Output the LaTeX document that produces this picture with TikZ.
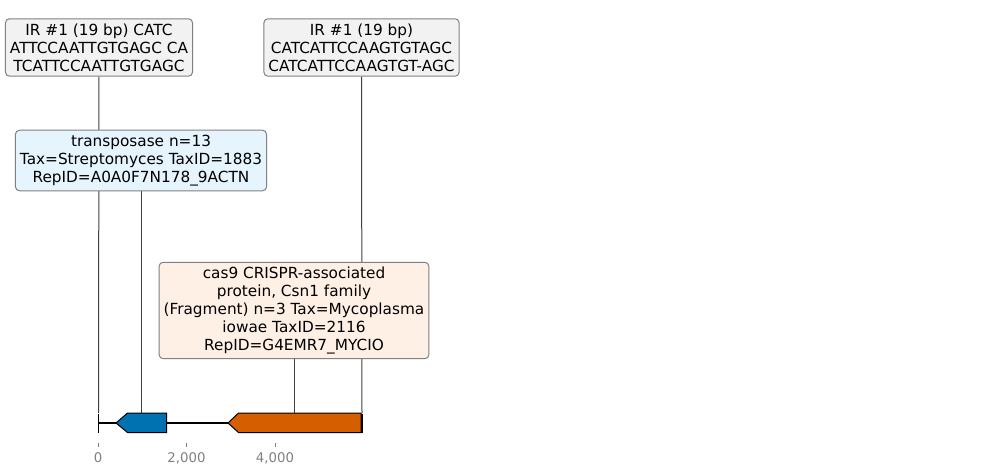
\documentclass[tikz,border=0pt]{standalone}
\usepackage{fontspec}
\setmainfont{DejaVu Sans}
\usepackage{xcolor}
\usepackage{tikz}
\usetikzlibrary{
    positioning,
    calc
}
\pgfdeclarelayer{background}
\pgfsetlayers{background,main}
\definecolor{irfill}{HTML}{F2F2F2}
\definecolor{tnpfill}{HTML}{E6F5FD}
\definecolor{casfill}{HTML}{FFF0E6}
\definecolor{boxedge}{HTML}{808080}
\definecolor{geneblue}{HTML}{0072B2}
\definecolor{geneorange}{HTML}{D55E00}
\tikzset{
    % annotation boxes
    annot/.style={
        rectangle,
        rounded corners=4pt,
        draw=boxedge,
        line width=1pt,
        fill=irfill,
        align=center,
        inner xsep=4.5pt,
        inner ysep=5pt,
        font=\fontsize{15.3}{17.8}\selectfont
    },
    % lines from boxes to the map
    stem/.style={
        draw=black!75,
        line width=1pt
    },
    % gene arrows
    gene/.style={
        draw=black,
        line width=1pt
    },
    ticklabel/.style={
        font=\fontsize{13.3}{15}\selectfont,
        text=black!50
    }
}

\begin{document}
\begin{tikzpicture}[x=1pt, y=-1pt]
    \useasboundingbox (0,0) rectangle (989,476);

    % Boxes
    \node[annot] (ir1) at (99,47.5) {IR \#1 (19 bp) CATC\\ATTCCAATTGTGAGC CA\\TCATTCCAATTGTGAGC};
    \node[annot] (ir2) at (361.5,47.5) {IR \#1 (19 bp)\\CATCATTCCAAGTGTAGC\\CATCATTCCAAGTGT-AGC};
    \node[annot, fill=tnpfill] (tnp) at (141,160.5) {transposase n=13\\Tax=Streptomyces TaxID=1883\\RepID=A0A0F7N178\_9ACTN};
    \node[annot, fill=casfill] (cas) at (294,310.5) {cas9 CRISPR-associated\\protein, Csn1 family\\(Fragment) n=3 Tax=Mycoplasma\\iowae TaxID=2116\\RepID=G4EMR7\_MYCIO};

    % Map anchors
    \coordinate (left) at (98,423);
    \coordinate (right) at (362,423);
    \coordinate (ir1pos) at (98.5,413);
    \coordinate (ir2pos) at (362,413);
    \coordinate (tnppos) at (141,413);
    \coordinate (caspos) at (294,413);

    % Stems (behind the boxes)
    \begin{pgfonlayer}{background}
        \draw[stem] (ir1) -- (ir1pos);
        \draw[stem] (ir2) -- (ir2pos);
        \draw[stem] (tnp) -- (tnppos);
        \draw[stem] (cas) -- (caspos);
    \end{pgfonlayer}

    % Backbone
    \draw[line width=2pt] (left) -- (right);
    \draw[line width=1pt] ($(left)+(0,-9.5)$) -- ($(left)+(0,9.5)$);
    \draw[line width=2pt] ($(right)+(0,-9.5)$) -- ($(right)+(0,9.5)$);

    % Genes
    \draw[gene, fill=geneblue] (116,423) -- (127.5,413) -- (166.5,413) -- (166.5,432.5) -- (127.5,432.5) -- cycle;
    \draw[gene, fill=geneorange] (228,423) -- (238.5,413) -- (361,413) -- (361,432.5) -- (238.5,432.5) -- cycle;

    % Axis
    \foreach \x/\lab in {98/0, 186.5/{2,000}, 275/{4,000}} {
        \draw[black!50, line width=0.8pt] (\x,443) -- (\x,447);
        \node[ticklabel] at (\x,458) {\lab};
    }
\end{tikzpicture}
\end{document}
